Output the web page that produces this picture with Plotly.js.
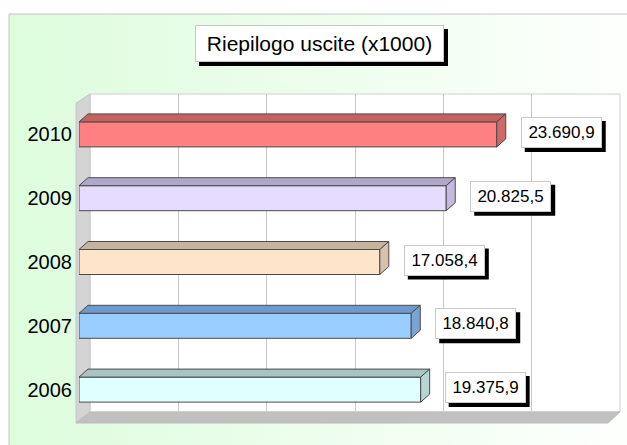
<!DOCTYPE html>
<html>
<head>
<meta charset="utf-8">
<script src="https://cdn.plot.ly/plotly-3.0.1.min.js"></script>
<style>html,body{margin:0;padding:0;background:#fff;}#chart{width:627px;height:445px;}</style>
</head>
<body>
<div id="chart"></div>
<script>
// ---- data ----
const years = ['2006', '2007', '2008', '2009', '2010'];
const values = [19375.9, 18840.8, 17058.4, 20825.5, 23690.9];
const frontColors = ['#e0ffff', '#99ccff', '#ffe4cc', '#e6dcff', '#ff8080'];
const topColors = ['#a9c4c4', '#6f99cc', '#c8b39f', '#b1a7c9', '#c46262'];
const sideColors = ['#b9d4d4', '#7aa3d6', '#d6c1ad', '#c4b9df', '#cf6868'];
const chartTitle = 'Riepilogo uscite (x1000)';
const xMax = 30000, xStep = 5000;

// ---- helpers ----
const W = 627, H = 445;
const FONT = 'Liberation Sans, Arial, sans-serif';
function px(x) { return x / W; }
function py(y) { return 1 - y / H; }
function P(x, y) { return px(x) + ',' + py(y); }
function fmtIt(v) {
  const parts = v.toFixed(1).split('.');
  const intPart = parts[0].replace(/\B(?=(\d{3})+(?!\d))/g, '.');
  return intPart + ',' + parts[1];
}

// plot geometry (pixels)
const front = { x0: 79, x1: 608, yTop: 102.5, yBot: 421.5 };
const back = { x0: 90, x1: 620, yTop: 94, yBot: 412 };
const depthX = 9, depthY = 8, halfBar = 12.5;
const depthData = depthX * xMax / (front.x1 - front.x0);
// value label box (pixels relative to bar end / bar centre, y up)
const lab = { dx: 24, dy: 2, w: 77, h: 27, shadow: 4 };
const labW = lab.w + 4, labH = lab.h + 4;
// title box (pixels)
const tBox = { cx: 319.5, cy: 43.5, w: 245, h: 33, shadow: 4 };

// invisible helper trace so that the back-wall subplot (x/y) is created and its grid drawn
const wallTrace = {
  type: 'scatter', mode: 'markers', x: [0, xMax], y: [0, 1], xaxis: 'x', yaxis: 'y',
  marker: { opacity: 0 }, hoverinfo: 'skip', showlegend: false
};

const barTrace = {
  type: 'bar', orientation: 'h',
  x: values, y: years,
  xaxis: 'x2', yaxis: 'y2',
  marker: { color: frontColors, line: { color: '#4a4a4a', width: 1 } },
  hoverinfo: 'skip'
};

const shapes = [];
// outer frame
shapes.push({ type: 'rect', xref: 'paper', yref: 'paper', x0: px(9), x1: px(640), y0: py(14), y1: py(460),
  line: { color: '#c4c4c4', width: 1 }, fillcolor: 'rgba(0,0,0,0)', layer: 'below' });
// back wall
shapes.push({ type: 'rect', xref: 'paper', yref: 'paper', x0: px(back.x0), x1: px(back.x1), y0: py(back.yBot), y1: py(back.yTop),
  fillcolor: '#ffffff', line: { color: '#d0d0d0', width: 1 }, layer: 'below' });
// side wall
shapes.push({ type: 'path', xref: 'paper', yref: 'paper', layer: 'below',
  path: 'M' + P(76, front.yBot + 1.5) + ' L' + P(76, 103) + ' L' + P(back.x0, back.yTop) + ' L' + P(back.x0, back.yBot) + ' Z',
  fillcolor: '#d4d4d4', line: { color: '#c6c6c6', width: 1 } });
// floor
shapes.push({ type: 'path', xref: 'paper', yref: 'paper', layer: 'below',
  path: 'M' + P(76, front.yBot + 1.5) + ' L' + P(back.x0, back.yBot) + ' L' + P(back.x1, back.yBot) + ' L' + P(front.x1, front.yBot + 1.5) + ' Z',
  fillcolor: '#c0c0c0', line: { color: '#bcbcbc', width: 1 } });
// title shadow
shapes.push({ type: 'rect', xref: 'paper', yref: 'paper', layer: 'above',
  x0: px(tBox.cx - (tBox.w + 4) / 2 + tBox.shadow), x1: px(tBox.cx + (tBox.w + 4) / 2 + tBox.shadow),
  y0: py(tBox.cy + (tBox.h + 4) / 2 + tBox.shadow), y1: py(tBox.cy - (tBox.h + 4) / 2 + tBox.shadow),
  fillcolor: '#000', line: { width: 0 } });

// 3D faces of the bars and label shadows
values.forEach(function (v, i) {
  shapes.push({ type: 'path', xref: 'x2', yref: 'y2', layer: 'above',
    ysizemode: 'pixel', yanchor: i,
    path: 'M 0,' + halfBar + ' L ' + depthData + ',' + (halfBar + depthY) + ' L ' + (v + depthData) + ',' + (halfBar + depthY) + ' L ' + v + ',' + halfBar + ' Z',
    fillcolor: topColors[i], line: { color: '#4a4a4a', width: 1 } });
  shapes.push({ type: 'path', xref: 'x2', yref: 'y2', layer: 'above',
    xsizemode: 'pixel', xanchor: v, ysizemode: 'pixel', yanchor: i,
    path: 'M 0,' + halfBar + ' L ' + depthX + ',' + (halfBar + depthY) + ' L ' + depthX + ',' + (-halfBar + depthY) + ' L 0,' + (-halfBar) + ' Z',
    fillcolor: sideColors[i], line: { color: '#4a4a4a', width: 1 } });
  shapes.push({ type: 'rect', xref: 'x2', yref: 'y2', layer: 'above',
    xsizemode: 'pixel', xanchor: v, x0: lab.dx + lab.shadow, x1: lab.dx + lab.shadow + labW,
    ysizemode: 'pixel', yanchor: i, y0: lab.dy - labH / 2 - lab.shadow, y1: lab.dy + labH / 2 - lab.shadow,
    fillcolor: '#000', line: { width: 0 } });
});

const annotations = [];
annotations.push({ xref: 'paper', yref: 'paper', x: px(tBox.cx), y: py(tBox.cy), xanchor: 'center', yanchor: 'middle',
  text: chartTitle, showarrow: false, width: tBox.w, height: tBox.h, borderpad: 1, borderwidth: 1,
  bgcolor: '#fff', bordercolor: '#c8c8c8',
  font: { family: FONT, size: 21, color: '#000' } });
values.forEach(function (v, i) {
  annotations.push({ xref: 'x2', yref: 'y2', x: v, y: i, xanchor: 'left', yanchor: 'middle',
    xshift: lab.dx, yshift: lab.dy,
    text: fmtIt(v), showarrow: false, width: lab.w, height: lab.h, borderpad: 1, borderwidth: 1,
    bgcolor: '#fff', bordercolor: '#c8c8c8',
    font: { family: FONT, size: 17, color: '#000' } });
});

const gradSvg = '<svg xmlns="http://www.w3.org/2000/svg" width="618" height="431" viewBox="0 0 618 431" preserveAspectRatio="none">' +
  '<defs><linearGradient id="g" x1="0" y1="0" x2="1" y2="0"><stop offset="0" stop-color="#ddfcdd"/><stop offset="1" stop-color="#fdfffd"/></linearGradient></defs>' +
  '<rect x="0" y="0" width="618" height="431" fill="url(#g)"/></svg>';

const layout = {
  width: W, height: H,
  margin: { l: 0, r: 0, t: 0, b: 0 },
  paper_bgcolor: '#ffffff', plot_bgcolor: 'rgba(0,0,0,0)',
  showlegend: false,
  bargap: 0.608,
  font: { family: FONT, color: '#000' },
  images: [{ source: 'data:image/svg+xml;charset=utf-8,' + encodeURIComponent(gradSvg),
    xref: 'paper', yref: 'paper', x: px(9), y: py(14), sizex: (W - 9) / W, sizey: (H - 14) / H + 0.05,
    xanchor: 'left', yanchor: 'top', sizing: 'stretch', layer: 'below' }],
  xaxis: { domain: [px(back.x0), px(back.x1)], anchor: 'y', range: [0, xMax], dtick: xStep, tick0: 0,
    showgrid: true, gridcolor: '#c8c8c8', gridwidth: 1, showticklabels: false, ticks: '', zeroline: false, showline: false, fixedrange: true },
  yaxis: { domain: [py(back.yBot), py(back.yTop)], anchor: 'x', range: [0, 1], showgrid: false, zeroline: false,
    showticklabels: false, ticks: '', showline: false, fixedrange: true },
  xaxis2: { domain: [px(front.x0), px(front.x1)], anchor: 'y2', range: [0, xMax], visible: false, fixedrange: true },
  yaxis2: { domain: [py(front.yBot), py(front.yTop)], anchor: 'x2', type: 'category',
    categoryorder: 'array', categoryarray: years, range: [-0.5, years.length - 0.5],
    showgrid: false, zeroline: false, showline: false, ticks: '', ticklabelstandoff: 6,
    tickfont: { family: FONT, size: 20, color: '#000' }, fixedrange: true },
  shapes: shapes,
  annotations: annotations
};

Plotly.newPlot('chart', [wallTrace, barTrace], layout, { staticPlot: true, displayModeBar: false });
</script>
</body>
</html>
